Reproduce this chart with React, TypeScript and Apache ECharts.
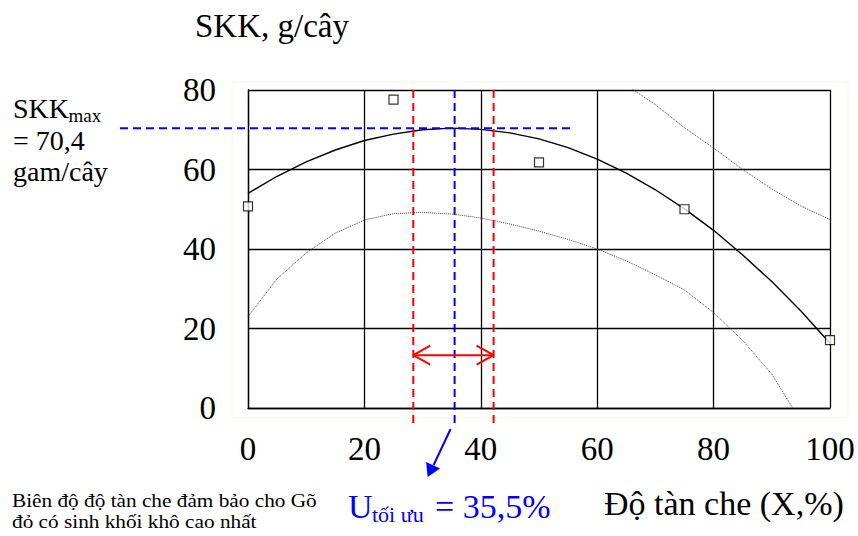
import React, { useEffect, useRef } from "react";
import * as echarts from "echarts";

// Observed dry biomass (SKK, g/cây) by canopy cover (%)
const obsShade = [0, 25, 50, 75, 100];
const obsSkk = [50.7, 77.6, 61.8, 50.0, 17.1];

// Fitted response curve and its confidence band
const curveX = [0, 5, 10, 15, 20, 25, 30, 35, 40, 45, 50, 55, 60, 65, 70, 75, 80, 85, 90, 95, 100];
const fitSkk = [54.0, 58.3, 61.9, 64.9, 67.3, 68.9, 70.0, 70.4, 70.1, 69.2, 67.7, 65.5, 62.6, 59.1, 54.9, 50.1, 44.7, 38.5, 31.8, 24.4, 16.3];
const lowerX = [0, 5, 10, 15, 20, 25, 30, 35, 40, 45, 50, 55, 60, 65, 70, 75, 80, 85, 90, 93.6];
const lowerSkk = [23.0, 32.5, 39.0, 44.0, 47.3, 48.9, 49.2, 48.8, 47.8, 46.3, 44.5, 42.4, 40.0, 37.0, 33.5, 29.7, 24.0, 17.0, 8.5, 0];
const upperX = [60, 65, 70, 75, 80, 85, 90, 95, 100];
const upperSkk = [85.0, 81.2, 76.3, 70.5, 65.4, 60.0, 55.1, 50.8, 47.4];

// Axis ticks
const xTicks = [0, 20, 40, 60, 80, 100];
const yTicks = [0, 20, 40, 60, 80];

// Optimum and the recommended range
const optShade = 35.5;
const skkMax = 70.4;
const rangeLow = 28.4;
const rangeHigh = 42.2;
const rangeArrowLevel = 13.3;
const maxLineEnd = 56;

const SERIF = "Liberation Serif";

const zip = (xs: number[], ys: number[]) => xs.map((x, i) => [x, ys[i]]);

export default function App() {
  const ref = useRef<HTMLDivElement>(null);

  useEffect(() => {
    if (!ref.current) return;
    const chart = echarts.init(ref.current, null, { renderer: "svg" });

    chart.setOption({
      animation: false,
      backgroundColor: "#ffffff",
      grid: { left: 248, right: 28, top: 90, bottom: 128 },
      xAxis: {
        type: "value",
        min: xTicks[0],
        max: xTicks[xTicks.length - 1],
        interval: 20,
        axisLine: { show: true, lineStyle: { color: "#000", width: 1.3 } },
        axisTick: { show: false },
        axisLabel: { fontFamily: SERIF, fontSize: 33, color: "#000", margin: 24 },
        splitLine: { show: true, lineStyle: { color: "#000", width: 1.3 } },
      },
      yAxis: {
        type: "value",
        min: yTicks[0],
        max: yTicks[yTicks.length - 1],
        interval: 20,
        axisLine: { show: true, lineStyle: { color: "#000", width: 1.3 } },
        axisTick: { show: false },
        axisLabel: { fontFamily: SERIF, fontSize: 33, color: "#000", margin: 32 },
        splitLine: { show: true, lineStyle: { color: "#000", width: 1.3 } },
      },
      series: [
        {
          name: "upper",
          type: "line",
          data: zip(upperX, upperSkk),
          showSymbol: false,
          clip: true,
          lineStyle: { color: "#444", width: 1, type: "dotted" },
          z: 2,
        },
        {
          name: "lower",
          type: "line",
          data: zip(lowerX, lowerSkk),
          showSymbol: false,
          clip: true,
          lineStyle: { color: "#444", width: 1, type: "dotted" },
          z: 2,
        },
        {
          name: "fit",
          type: "line",
          data: zip(curveX, fitSkk),
          showSymbol: false,
          clip: true,
          lineStyle: { color: "#000", width: 1.4 },
          z: 3,
        },
        {
          name: "observed",
          type: "scatter",
          data: zip(obsShade, obsSkk),
          symbol: "rect",
          symbolSize: 9,
          itemStyle: { color: "#fff", borderColor: "#000", borderWidth: 1.2 },
          z: 5,
        },
      ],
    });

    const px = (x: number, y: number) => chart.convertToPixel({ gridIndex: 0 }, [x, y]) as number[];
    const [xLow, yTop] = px(rangeLow, yTicks[yTicks.length - 1]);
    const [xHigh] = px(rangeHigh, 0);
    const [xOpt, yZero] = px(optShade, 0);
    const [xLeftPlot] = px(0, 0);
    const [xRightPlot] = px(100, 0);
    const [, yMax] = px(0, skkMax);
    const [xMaxEnd] = px(maxLineEnd, 0);
    const [, yArrow] = px(0, rangeArrowLevel);
    const yDashBottom = yZero + 20;

    const dash = (x1: number, y1: number, x2: number, y2: number, color: string) => ({
      type: "line",
      shape: { x1, y1, x2, y2 },
      style: { stroke: color, lineWidth: 2, lineDash: [8, 5] },
      z: 10,
    });
    const seg = (x1: number, y1: number, x2: number, y2: number, color: string, w = 2) => ({
      type: "line",
      shape: { x1, y1, x2, y2 },
      style: { stroke: color, lineWidth: w },
      z: 10,
    });
    const txt = (text: string, x: number, y: number, size: number, color = "#000", scaleX = 1) => ({
      type: "text",
      x,
      y,
      scaleX,
      style: {
        text,
        fill: color,
        fontSize: size,
        fontFamily: SERIF,
        align: "left",
        verticalAlign: "middle",
        textAlign: "left",
        textVerticalAlign: "middle",
      },
      z: 10,
    });

    const red = "#ff0000";
    const blue = "#0000ff";
    const headDx = 17;
    const headDy = 9.5;
    // Blue pointer from the optimum line to its label
    const pStart = [xOpt - 4, yZero + 21];
    const pTip = [xOpt - 27, yZero + 69];

    chart.setOption({
      graphic: [
        {
          type: "rect",
          shape: { x: xLeftPlot - 16, y: yTop - 8, width: xRightPlot - xLeftPlot + 34, height: yZero - yTop + 18 },
          style: { fill: "none", stroke: "#faf6d2", lineWidth: 1 },
          z: 0,
        },
        dash(xLow, yTop, xLow, yDashBottom, red),
        dash(xHigh, yTop, xHigh, yDashBottom, red),
        dash(xOpt, yTop, xOpt, yDashBottom, blue),
        dash(120, yMax, xMaxEnd, yMax, blue),
        seg(xLow, yArrow, xHigh, yArrow, red),
        seg(xLow, yArrow, xLow + headDx, yArrow - headDy, red),
        seg(xLow, yArrow, xLow + headDx, yArrow + headDy, red),
        seg(xHigh, yArrow, xHigh - headDx, yArrow - headDy, red),
        seg(xHigh, yArrow, xHigh - headDx, yArrow + headDy, red),
        seg(pStart[0], pStart[1], pTip[0] + 6, pTip[1] - 12, blue, 2),
        {
          type: "polygon",
          shape: {
            points: [
              [pTip[0], pTip[1]],
              [pTip[0] - 1.5, pTip[1] - 15],
              [pTip[0] + 12.5, pTip[1] - 8.5],
            ],
          },
          style: { fill: blue },
          z: 10,
        },
        txt("SKK, g/cây", 195, 26, 33),
        txt("SKK", 13, 108.5, 28),
        txt("max", 68.5, 115.5, 19),
        txt("= 70,4", 13, 140.5, 28),
        txt("gam/cây", 13, 171.5, 28),
        txt("U", 348, 506.7, 34, blue),
        txt("tối ưu", 372, 514, 22, blue),
        txt("= 35,5%", 435, 506.7, 34, blue),
        txt("Độ tàn che (X,%)", 604, 503, 34),
        txt("Biên độ độ tàn che đảm bảo cho Gõ", 12, 500.5, 19, "#000", 1.12),
        txt("đỏ có sinh khối khô cao nhất", 12, 521.5, 19, "#000", 1.12),
      ],
    });

    return () => chart.dispose();
  }, []);

  return (
    <div
      ref={ref}
      style={{ position: "fixed", left: 0, top: 0, width: 858, height: 536, background: "#fff" }}
    />
  );
}
